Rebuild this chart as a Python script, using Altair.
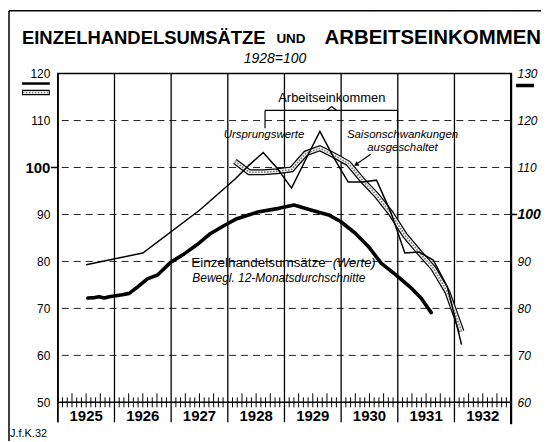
import altair as alt
import pandas as pd

# ---------------- data ----------------
# Arbeitseinkommen, Ursprungswerte (left axis, 1928=100)
ae_t = [1925.5, 1926.5, 1927.5, 1928.125, 1928.375, 1928.625, 1928.875, 1929.125,
        1929.375, 1929.625, 1929.875, 1930.125, 1930.375, 1930.625, 1930.875,
        1931.125, 1931.375, 1931.625, 1931.875, 1932.125]
ae_v = [79.3, 81.8, 90.9, 97.5, 100.5, 103.2, 99.8, 95.6,
        101.7, 107.7, 102.0, 96.9, 96.9, 97.3, 90.5,
        81.8, 82.0, 80.3, 74.6, 62.3]

# Arbeitseinkommen, Saisonschwankungen ausgeschaltet (left axis)
sa_t = [1928.125, 1928.375, 1928.625, 1928.875, 1929.125, 1929.375, 1929.625, 1929.875,
        1930.125, 1930.375, 1930.625, 1930.875, 1931.125, 1931.375, 1931.625,
        1931.875, 1932.125]
sa_v = [101.3, 99.0, 99.0, 99.2, 99.6, 103.0, 104.1, 102.6,
        100.9, 97.3, 94.1, 90.3, 85.6, 82.0, 78.6,
        73.5, 65.1]

# Einzelhandelsumsaetze, bewegl. 12-Monatsdurchschnitte (right axis)
eh_t = [1925.53, 1925.65, 1925.73, 1925.82, 1925.91, 1926.02, 1926.14, 1926.26,
        1926.41, 1926.58, 1926.76, 1926.99, 1927.23, 1927.46, 1927.69, 1927.93,
        1928.16, 1928.55, 1928.90, 1929.17, 1929.48, 1929.78, 1929.99, 1930.25,
        1930.48, 1930.71, 1930.96, 1931.24, 1931.41, 1931.59]
eh_v = [82.2, 82.3, 82.5, 82.2, 82.5, 82.7, 82.9, 83.2,
        84.6, 86.3, 87.1, 89.8, 91.6, 93.6, 95.9, 97.6,
        99.1, 100.6, 101.3, 102.0, 100.9, 99.9, 98.5, 96.0,
        93.2, 89.6, 87.2, 84.3, 82.2, 79.1]

left_ticks = [50, 60, 70, 80, 90, 100, 110, 120]
right_ticks = [60, 70, 80, 90, 100, 110, 120, 130]
grid_vals = [60, 70, 80, 90, 100, 110]
years = [1925, 1926, 1927, 1928, 1929, 1930, 1931, 1932]
year_bounds = [1925, 1926, 1927, 1928, 1929, 1930, 1931, 1932, 1933]

# ---------------- layout ----------------
W, H = 455, 330
FONT = "Liberation Sans"

xs = alt.Scale(domain=[1925, 1933], nice=False, zero=False)
ysl = alt.Scale(domain=[50, 120], nice=False, zero=False)
ysr = alt.Scale(domain=[60, 130], nice=False, zero=False)

ONE = alt.Data(values=[{}])


def txt(s, x, y, size=12, weight="normal", style="normal", align="center", font=FONT):
    return alt.Chart(ONE).mark_text(
        text=s, fontSize=size, fontWeight=weight, fontStyle=style, align=align,
        baseline="middle", font=font, color="black"
    ).encode(x=alt.value(x), y=alt.value(y))


def seg(x, y, x2, y2, w=1.2, color="black", dash=None):
    kw = dict(color=color, strokeWidth=w)
    if dash:
        kw["strokeDash"] = dash
    return alt.Chart(ONE).mark_rule(**kw).encode(
        x=alt.value(x), y=alt.value(y), x2=alt.value(x2), y2=alt.value(y2))


is100 = "datum.value == 100"
left_axis = alt.Axis(
    orient="left", values=left_ticks, ticks=False, grid=False, domain=False, title=None,
    labelFont=FONT, labelColor="black", labelPadding=8,
    labelFontSize={"condition": {"test": is100, "value": 15}, "value": 12},
    labelFontWeight={"condition": {"test": is100, "value": "bold"}, "value": "normal"},
)
right_axis = alt.Axis(
    orient="right", values=right_ticks, ticks=False, grid=False, domain=False, title=None,
    labelFont=FONT, labelColor="black", labelPadding=6, labelFontStyle="italic",
    labelFontSize={"condition": {"test": is100, "value": 14}, "value": 12},
    labelFontWeight={"condition": {"test": is100, "value": "bold"}, "value": "normal"},
)

grid_df = pd.DataFrame({"v": grid_vals})
grid = alt.Chart(grid_df).mark_rule(color="#222", strokeWidth=1, strokeDash=[7, 5]).encode(
    y=alt.Y("v:Q", scale=ysl, axis=left_axis))

yb_df = pd.DataFrame({"t": year_bounds})
ysep = alt.Chart(yb_df).mark_rule(color="black", strokeWidth=1.3).encode(
    x=alt.X("t:Q", scale=xs, axis=None), y=alt.value(0), y2=alt.value(H + 20))

months = [1925 + m / 12 for m in range(1, 96) if m % 12 != 0]
mdf = pd.DataFrame({"t": months, "q": [(round((t - 1925) * 12) % 3 == 0) for t in months]})
mtick = alt.Chart(mdf).transform_filter("!datum.q").mark_rule(color="black", strokeWidth=1).encode(
    x=alt.X("t:Q", scale=xs, axis=None), y=alt.value(H - 5), y2=alt.value(H + 5))
qtick = alt.Chart(mdf).transform_filter("datum.q").mark_rule(color="black", strokeWidth=1).encode(
    x=alt.X("t:Q", scale=xs, axis=None), y=alt.value(H - 9), y2=alt.value(H + 5))

ydf = pd.DataFrame({"y": years, "mid": [y + 0.5 for y in years], "lab": [str(y) for y in years]})
ylab = alt.Chart(ydf).mark_text(fontSize=15, fontWeight="bold", font=FONT, color="black",
                                baseline="middle").encode(
    x=alt.X("mid:Q", scale=xs, axis=None), y=alt.value(H + 14), text="lab:N")

ae_df = pd.DataFrame({"t": ae_t, "v": ae_v})
sa_df = pd.DataFrame({"t": sa_t, "v": sa_v})
eh_df = pd.DataFrame({"t": eh_t, "v": eh_v})

enc_l = dict(x=alt.X("t:Q", scale=xs, axis=None), y=alt.Y("v:Q", scale=ysl, axis=left_axis))
sa1 = alt.Chart(sa_df).mark_line(color="black", strokeWidth=6).encode(**enc_l)
sa2 = alt.Chart(sa_df).mark_line(color="#efefef", strokeWidth=3.6).encode(**enc_l)
sa3 = alt.Chart(sa_df).mark_line(color="#777", strokeWidth=1.6, strokeDash=[1.5, 1.5]).encode(**enc_l)
ae = alt.Chart(ae_df).mark_line(color="black", strokeWidth=1.5).encode(**enc_l)

eh = alt.Chart(eh_df).mark_line(color="black", strokeWidth=3.6, strokeJoin="round",
                                strokeCap="round").encode(
    x=alt.X("t:Q", scale=xs, axis=None), y=alt.Y("v:Q", scale=ysr, axis=right_axis))

# 100 ticks outside the axes, axis lines extending below
y100l = (120 - 100) * H / 70
y100r = (130 - 100) * H / 70
t100l = seg(-7, y100l, 0, y100l, w=1.5)
t100r = seg(W, y100r, W + 6, y100r, w=1.5)
raxis = seg(W, 0, W, H + 22, w=2.2)
laxis = seg(0, 0, 0, H + 20, w=1.5)

# legend keys beside the axes
legl1 = seg(-36, 10, -8, 10, w=2.5)
legl2a = seg(-36, 19, -8, 19, w=5.5)
legl2b = seg(-35, 19, -9, 19, w=3, color="#efefef")
legl2c = seg(-35, 19, -9, 19, w=1.5, color="#777", dash=[1.5, 1.5])
legr = seg(460, 12, 478, 12, w=3.5)

# bracket over Arbeitseinkommen
br = [seg(208, 37, 341, 37, w=1.2), seg(208, 37, 208, 55, w=1.2), seg(341, 37, 341, 56, w=1.2),
      seg(270, 37, 275, 33, w=1.2), seg(275, 33, 280, 37, w=1.2)]

# arrow
arrow = seg(314, 81, 301, 90, w=1.1)
head = alt.Chart(ONE).mark_point(shape="triangle", filled=True, color="black", size=28,
                                 angle=238, opacity=1).encode(x=alt.value(300), y=alt.value(91))

# frame lines
frame = [seg(-49, -63, 490, -63, w=1.5), seg(-49, -63, -49, H + 40, w=1.5)]

texts = [
    txt("EINZELHANDELSUMSÄTZE", -36, -36, size=18.5, weight="bold", align="left"),
    txt("UND", 234, -35, size=13.5, weight="bold"),
    txt("ARBEITSEINKOMMEN", 485, -36, size=20.5, weight="bold", align="right"),
    txt("1928=100", 218, -15, size=14, style="italic"),
    txt("Arbeitseinkommen", 275, 25, size=13),
    txt("Ursprungswerte", 207, 62, size=11.5, style="italic"),
    txt("Saisonschwankungen", 346, 62, size=11.5, style="italic"),
    txt("ausgeschaltet", 346, 75, size=11.5, style="italic"),
    txt("Einzelhandelsumsätze", 134, 190, size=13.5, align="left"),
    txt("(Werte)", 276, 190, size=13, style="italic", align="left"),
    txt("Bewegl. 12-Monatsdurchschnitte", 135, 205, size=12, style="italic", align="left"),
    txt("J.f.K.32", -48, H + 32, size=11, align="left"),
]

left_group = alt.layer(grid, ysep, mtick, qtick, ylab, sa1, sa2, sa3, ae,
                       t100l, t100r, raxis, laxis, legl1, legl2a, legl2b, legl2c, legr,
                       *br, arrow, head, *frame, *texts)
right_group = alt.layer(eh)

chart = alt.layer(left_group, right_group).resolve_scale(y="independent").properties(
    width=W, height=H,
    padding={"left": 50, "top": 65, "right": 30, "bottom": 38},
    autosize=alt.AutoSizeParams(type="none"),
    background="white",
).configure_view(stroke="black", strokeWidth=1.5)

chart.save("out.html", embed_options={"renderer": "svg", "actions": False})
